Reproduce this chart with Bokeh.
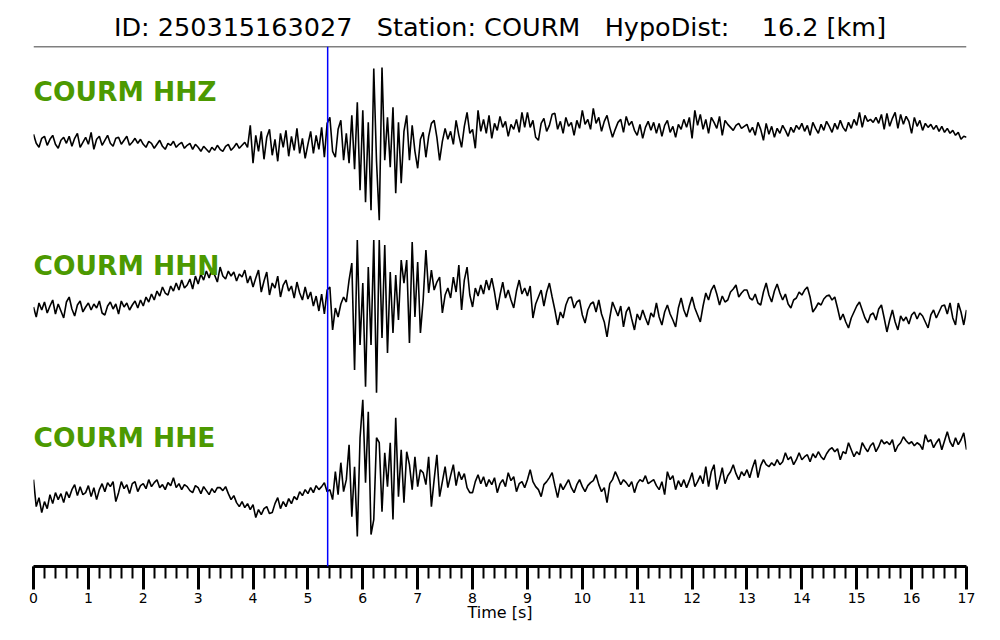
from bokeh.plotting import figure
from bokeh.models import Range1d, Span, Label, FixedTicker
from bokeh.embed import file_html
from bokeh.resources import INLINE

# ---------------- data ----------------
NB = "\u00a0"
TITLE = "ID: 250315163027" + NB * 3 + "Station: COURM" + NB * 3 + "HypoDist:" + NB * 4 + "16.2 [km]"
CHANNELS = ["COURM HHZ", "COURM HHN", "COURM HHE"]
DT = 0.05            # sample interval [s]
P_PICK = 5.36        # pick time [s]
XTICKS = list(range(0, 18))

HHZ = [
    7, -2, -6, 3, 5, -4, 2, 6, -3, -7, 1, 4, -2, 5, -5, 3, 8, -6, -1, 4,
    -3, 9, -8, 2, 5, -4, 1, 6, -2, -5, 3, 4, -3, 1, 5, -4, -1, 3, -2, 2,
    -3, -6, 0, -2, -7, -3, 1, -5, -8, -2, -4, 0, -6, -3, -1, -7, -4, -2, -8, -3,
    -6, -10, -5, -8, -11, -6, -9, -4, -8, -10, -5, -3, -9, -6, -2, -7, -4, -1, -6, 16,
    -22, 6, -10, 10, -18, 4, 12, -14, 2, -20, 8, -6, 11, -15, 5, -9, 13, -12, 3, -17,
    -3, 10, -12, 6, -8, 14, -16, 18, 24, -10, -16, 12, 21, -19, 8, -22, 26, -28, 39, -49,
    31, -61, 19, -69, 73, -20, -79, 74, -19, 24, -26, 34, -52, 19, -42, 10, 26, -19, 16, -10,
    -27, 2, 9, -16, 5, 18, 21, 4, -19, 0, 13, 2, 10, -3, 21, 6, -6, 15, 29, 8,
    12, -7, 31, 10, 22, 8, 26, 3, 18, 11, 25, 14, 20, 5, 17, 12, 22, 9, 29, 14,
    29, 14, 21, 4, 1, 18, 23, 10, 16, 27, 28, 12, 20, 8, 24, 15, 19, 6, 21, 13,
    31, 17, 22, 12, 33, 18, 24, 10, 20, 26, 14, 4, 12, 19, 22, 9, 25, 16, 20, 11,
    6, 17, 3, 14, 20, 11, 19, 8, 18, 5, 16, 21, 9, 15, 4, 17, 12, 22, 14, 24,
    3, 31, 16, 27, 12, 22, 8, 24, 19, 13, 25, 6, 21, 17, 14, 11, 16, 18, 13, 15,
    17, 9, 14, 6, 19, 12, 1, 18, 7, 15, 4, 13, 8, 16, 11, 5, 14, 9, 16, 12,
    18, 10, 16, 6, 19, 13, 8, 17, 11, 20, 15, 9, 18, 12, 21, 14, 10, 19, 13, 22,
    16, 29, 14, 26, 20, 22, 19, 24, 18, 27, 12, 28, 15, 23, 29, 13, 27, 17, 25, 20,
    8, 24, 15, 21, 11, 18, 14, 17, 12, 16, 10, 15, 9, 13, 8, 11, 6, 9, 2, 5, 4,
]

HHN = [
    -7, -17, -3, -10, -2, -13, -6, 0, -14, -4, -11, -18, -2, 3, -9, -16, -5, -1, -12, -7,
    -3, -10, -4, -8, -1, -13, -15, -6, -2, -9, -4, -14, -1, -7, -3, -10, -5, -1, -8, 0,
    -6, 3, -2, 6, 0, 9, 4, 13, 7, 5, 14, 9, 17, 10, 20, 12, 15, 21, 11, 24,
    16, 26, 20, 29, 22, 31, 25, 18, 33, 24, 21, 29, 24, 28, 19, 26, 23, 30, 17, 24,
    13, 22, 30, 8, 19, 28, 5, 17, 12, 24, 3, 15, 20, 9, 14, 2, 18, 7, 0, 13,
    1, 8, -6, 4, -11, 6, -14, 10, 13, -30, -8, -17, -4, 3, -2, 20, 37, -70, 60, -45,
    17, -87, 33, -45, 60, -93, 60, -38, 55, -53, 28, -33, 25, -20, 40, 17, 40, -43, 58, -17,
    38, -33, 0, 50, 7, 30, 10, 18, 23, -13, 5, 12, 2, 23, 8, 35, -10, 20, 33, 5,
    -7, 12, 4, 15, 6, 20, 10, 22, 8, -10, 5, 18, 2, 10, 0, -8, 9, 20, 6, 12,
    4, 14, -18, -4, 3, 10, -6, 8, 17, 3, -10, -25, -12, -18, -5, 2, 3, -8, -2, 0,
    -15, -23, -10, -4, -2, -12, 0, -14, -22, -37, -18, -2, -9, -16, -6, -27, -12, -7, -19, -30,
    -14, -20, -10, -18, -25, -13, -17, -3, -17, -25, -12, -5, -14, -20, -27, -8, 2, -10, -17, -6,
    3, -8, -15, -22, -6, 7, 0, 10, 15, 6, -5, 4, -2, 0, 8, 11, 15, 3, 7, 10,
    10, 2, 0, 6, -3, -5, 8, 17, 5, -2, 9, 16, 7, 0, 6, -4, -8, 0, 2, 8,
    5, 10, 13, 3, -12, -8, -3, -5, 1, 4, 5, 0, 3, -8, -20, -14, -22, -28, -18, -12,
    -6, -2, -10, -18, -23, -15, -13, -20, -9, -5, -18, -32, -20, -10, -22, -30, -16, -21, -17, -24,
    -15, -12, -19, -13, -16, -22, -28, -15, -10, -18, -12, -6, -5, -14, -3, -18, -25, -3, -12, -25, -10,
]

HHE = [
    10, -17, -8, -23, -12, -19, -5, -14, -3, -10, -4, -13, -2, -8, 0, 5, -6, 3, -5, -3,
    4, -7, 2, -10, 0, 6, -2, 7, 3, 8, -12, -3, 8, 1, 5, -4, 6, 8, -2, 4,
    6, 1, 10, 3, 7, 10, 2, 5, 0, 7, 4, 12, 2, 6, 0, 5, 3, -1, -3, 4,
    2, -4, 3, -1, -5, 1, -3, 2, 2, -1, 3, -4, -10, -6, -13, -17, -12, -18, -14, -20,
    -15, -28, -20, -25, -19, -17, -24, -23, -14, -8, -19, -12, -17, -9, -14, -7, -10, -2, -6, 0,
    -4, 2, -3, 4, 0, 3, 7, -2, 0, -10, 18, -5, 27, -2, 10, 45, -27, 23, -47, 52,
    90, 7, 78, -45, -30, 52, 47, -22, 37, 3, 47, -30, 72, -7, 40, -13, 38, 25, 0, 33,
    3, 20, 17, 5, 33, -17, 10, 35, -7, 8, 23, 2, 14, 25, 4, 18, 10, 16, 2, -3,
    -3, 8, 15, 6, 13, 3, 10, 5, 12, -3, 6, 10, 3, 17, 9, 13, -2, 6, 8, 2,
    10, 20, 8, 3, 0, -7, 5, 8, 12, 17, 4, -8, 6, 0, 5, 10, 2, -3, 5, 10,
    3, -2, 4, 7, 9, 15, 5, -2, 2, -13, 6, 10, 18, 12, 5, 10, 7, 3, 8, -3,
    6, 10, 8, 14, 6, 8, 10, 4, 0, 8, -5, 18, 10, 14, 0, 9, 3, 10, 2, 9,
    17, 3, 8, 14, 6, 23, 3, 18, 25, 0, 10, 22, 6, 14, 18, 25, 16, 10, 18, 14,
    20, 12, 22, 30, 12, 24, 30, 25, 23, 27, 24, 30, 25, 28, 37, 30, 33, 25, 30, 37,
    30, 33, 35, 28, 36, 32, 38, 33, 30, 36, 40, 42, 38, 41, 30, 38, 36, 47, 40, 33,
    38, 35, 47, 42, 38, 44, 47, 38, 43, 50, 46, 48, 45, 50, 38, 44, 47, 53, 49, 46,
    48, 44, 47, 45, 40, 55, 48, 50, 42, 47, 51, 40, 49, 58, 48, 43, 52, 45, 50, 57, 40,
]

# ---------------- layout / style ----------------
OFFSETS = [426, 267, 77]          # vertical placement of each trace
LABEL_Y = [476, 302, 129]
GREEN = "#4c9900"

times = [round(i * DT, 2) for i in range(len(HHZ))]

p = figure(width=984, height=624,
           x_range=Range1d(0, 17), y_range=Range1d(0, 521),
           output_backend="svg", toolbar_location=None,
           y_axis_location=None,
           min_border_left=33, min_border_right=18, min_border_top=46,
           min_border_bottom=57, background_fill_color="white",
           border_fill_color="white")
p.outline_line_color = None
p.grid.visible = False

p.title.text = TITLE
p.title.align = "center"
p.title.text_color = "black"
p.title.text_font = "DejaVu Sans"
p.title.text_font_size = "25.5px"
p.title.text_font_style = "normal"
p.title.standoff = 9

# top line under title
p.add_layout(Span(location=521, dimension="width", line_color="black", line_width=1.6))

for trace, off, name, ly in zip([HHZ, HHN, HHE], OFFSETS, CHANNELS, LABEL_Y):
    p.line(times, [v + off for v in trace], line_color="black", line_width=1.6)
    p.add_layout(Label(x=0, y=ly, text=name, text_color=GREEN,
                       text_font="DejaVu Sans", text_font_style="bold",
                       text_font_size="26.5px", text_baseline="middle"))

p.add_layout(Span(location=P_PICK, dimension="height", line_color="blue", line_width=1.5))

ax = p.xaxis[0]
ax.ticker = FixedTicker(ticks=XTICKS, minor_ticks=[round(k * 0.2, 1) for k in range(86)])
ax.axis_line_width = 3
ax.axis_line_color = "black"
ax.major_tick_line_width = 3
ax.minor_tick_line_width = 2
ax.major_tick_in = 0
ax.major_tick_out = 23
ax.minor_tick_in = 0
ax.minor_tick_out = 12
ax.major_label_text_font = "DejaVu Sans"
ax.major_label_text_font_size = "14px"
ax.major_label_text_color = "black"
ax.major_label_standoff = 3
ax.axis_label = "Time [s]"
ax.axis_label_text_font = "DejaVu Sans"
ax.axis_label_text_font_style = "normal"
ax.axis_label_text_font_size = "16px"
ax.axis_label_text_color = "black"
ax.axis_label_standoff = -3

open("out.html", "w").write(file_html(p, INLINE))
